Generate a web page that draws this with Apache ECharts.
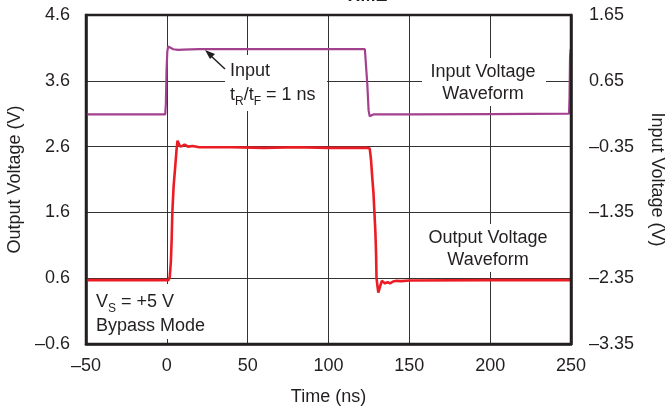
<!DOCTYPE html>
<html>
<head>
<meta charset="utf-8">
<script src="https://cdn.jsdelivr.net/npm/echarts@6/dist/echarts.min.js"></script>
<style>
html,body{margin:0;padding:0;background:#fff;}
#chart{width:668px;height:407px;}
</style>
</head>
<body>
<div id="chart"></div>
<script>
// Tick labels
var xMin = -50, xMax = 250, xStep = 50;
var leftTickLabels = ['\u20130.6', '0.6', '1.6', '2.6', '3.6', '4.6'];
var rightTickLabels = ['\u20133.35', '\u20132.35', '\u20131.35', '\u20130.35', '0.65', '1.65'];
// Data ranges of the two voltage scales
var outputRange = [-0.4, 4.6];
var inputRange = [-3.35, 1.65];

// Output voltage waveform (time ns, volts)
var outputTime = [-50, -20, 1, 1.8, 2.5, 3.0, 3.4, 4.2, 5.2, 6, 6.6, 7.4, 8.2, 9.5, 11, 13, 16, 20, 40, 60, 80, 100, 115, 124, 125.5, 126.3, 127, 127.8, 128.4, 129, 129.4, 129.7, 130.2, 130.8, 131.5, 132.2, 133, 134, 135, 136.5, 138, 140, 142, 145, 150, 200, 250];
var outputVolts = [0.57, 0.57, 0.57, 0.62, 0.85, 1.2, 1.6, 2.0, 2.3, 2.55, 2.69, 2.66, 2.6, 2.61, 2.63, 2.6, 2.61, 2.59, 2.59, 2.58, 2.59, 2.58, 2.58, 2.58, 2.57, 2.4, 2.15, 1.9, 1.6, 1.3, 1.0, 0.6, 0.5, 0.38, 0.36, 0.5, 0.56, 0.53, 0.52, 0.54, 0.52, 0.55, 0.56, 0.555, 0.565, 0.57, 0.57];

// Input voltage waveform (time ns, volts)
var inputTime = [-50, -1, -0.6, -0.2, 0.3, 0.8, 2, 4, 7, 10, 20, 60, 100, 122.5, 123.2, 124, 124.8, 125.5, 126.5, 128, 150, 200, 248.8, 249.1, 249.4, 249.8, 250];
var inputVolts = [0.14, 0.14, 0.3, 0.8, 1.1, 1.17, 1.15, 1.13, 1.12, 1.125, 1.13, 1.13, 1.13, 1.13, 1.1, 0.6, 0.2, 0.11, 0.12, 0.14, 0.14, 0.145, 0.15, 0.4, 1.0, 1.13, 1.13];

function pairs(xs, ys){ var out=[]; for(var i=0;i<xs.length;i++) out.push([xs[i], ys[i]]); return out; }

var FONT = '"Liberation Sans", Arial, Helvetica, sans-serif';
var TXT = '#231f20';
var FS = 18;
var chart = echarts.init(document.getElementById('chart'), null, {renderer:'canvas'});

var subRich = {
  n: {fontSize: FS, fontFamily: FONT, color: TXT, lineHeight: 22, verticalAlign: 'middle'},
  s: {fontSize: 12, fontFamily: FONT, color: TXT, lineHeight: 25, verticalAlign: 'bottom'}
};

var option = {
  animation: false,
  backgroundColor: '#fff',
  textStyle: {fontFamily: FONT, color: TXT},
  grid: {left: 86, right: 97, top: 15, bottom: 63, containLabel: false, outerBoundsMode: 'none',
         show: true, borderColor: TXT, borderWidth: 2.5, backgroundColor: 'transparent', z: 5},
  xAxis: {
    type: 'value', min: xMin, max: xMax, interval: xStep,
    name: 'Time (ns)', nameLocation: 'middle', nameGap: 44,
    nameTextStyle: {fontSize: FS, color: TXT, fontFamily: FONT},
    axisLine: {show: true, onZero: false, lineStyle: {color: TXT, width: 2.5}},
    axisTick: {show: false},
    axisLabel: {fontSize: FS, color: TXT, fontFamily: FONT, margin: 13,
      formatter: function(v){ return v < 0 ? '\u2013' + Math.abs(v) : String(v); }},
    splitLine: {show: true, lineStyle: {color: '#333', width: 1}}
  },
  yAxis: [
    {
      type: 'value', min: 0, max: 5, interval: 1, position: 'left',
      name: 'Output Voltage (V)', nameLocation: 'middle', nameGap: 55,
      nameTextStyle: {fontSize: FS, color: TXT, fontFamily: FONT},
      axisLine: {show: true, onZero: false, lineStyle: {color: TXT, width: 2.5}},
      axisTick: {show: false},
      axisLabel: {fontSize: FS, color: TXT, fontFamily: FONT, margin: 16,
        formatter: function(v){ return leftTickLabels[Math.round(v)]; }},
      splitLine: {show: true, lineStyle: {color: '#333', width: 1}}
    },
    {
      type: 'value', min: 0, max: 5, interval: 1, position: 'right',
      name: 'Input Voltage (V)', nameLocation: 'middle', nameGap: 77, nameRotate: -90,
      nameTextStyle: {fontSize: FS, color: TXT, fontFamily: FONT},
      axisLine: {show: true, onZero: false, lineStyle: {color: TXT, width: 2.5}},
      axisTick: {show: false},
      axisLabel: {fontSize: FS, color: TXT, fontFamily: FONT, margin: 18,
        formatter: function(v){ return rightTickLabels[Math.round(v)]; }},
      splitLine: {show: false}
    },
    {type: 'value', show: false, min: outputRange[0], max: outputRange[1], axisLine: {onZero: false}, splitLine: {show: false}},
    {type: 'value', show: false, min: inputRange[0], max: inputRange[1], axisLine: {onZero: false}, splitLine: {show: false}}
  ],
  series: [
    {
      name: 'Input Voltage', type: 'line', yAxisIndex: 3, showSymbol: false, symbol: 'none',
      data: pairs(inputTime, inputVolts),
      lineStyle: {color: '#a3418f', width: 2.2}, z: 3
    },
    {
      name: 'Output Voltage', type: 'line', yAxisIndex: 2, showSymbol: false, symbol: 'none',
      data: pairs(outputTime, outputVolts),
      lineStyle: {color: '#ec1c24', width: 2.6}, z: 4
    }
  ],
  graphic: [
    {type: 'text', x: 366, y: 5, z: 10,
      style: {text: 'TIME', font: 'bold 18px ' + FONT, fill: TXT, textAlign: 'center', textVerticalAlign: 'bottom'}},
    // white boxes hiding grid lines behind annotations
    {type: 'rect', shape: {x: 225, y: 55, width: 102, height: 56}, style: {fill: '#fff'}, z: 1},
    {type: 'rect', shape: {x: 422, y: 58, width: 124, height: 48}, style: {fill: '#fff'}, z: 1},
    {type: 'rect', shape: {x: 424, y: 224, width: 130, height: 48}, style: {fill: '#fff'}, z: 1},
    {type: 'rect', shape: {x: 92, y: 284, width: 120, height: 55}, style: {fill: '#fff'}, z: 1},
    {type: 'text', x: 230, y: 71, z: 10,
      style: {text: 'Input', font: FS + 'px ' + FONT, fill: TXT, textVerticalAlign: 'middle'}},
    {type: 'text', x: 230, y: 83, z: 10,
      style: {text: '{n|t}{s|R}{n|/t}{s|F}{n| = 1 ns}', fill: TXT, rich: subRich}},
    {type: 'line', shape: {x1: 225, y1: 69, x2: 210, y2: 55}, style: {stroke: TXT, lineWidth: 1.5}, z: 10},
    {type: 'polygon', shape: {points: [[205, 50], [215, 54], [210, 59]]}, style: {fill: TXT}, z: 10},
    {type: 'text', x: 483, y: 83, z: 10,
      style: {text: 'Input Voltage\nWaveform', font: FS + 'px ' + FONT, fill: TXT, textAlign: 'center', textVerticalAlign: 'middle', lineHeight: 22}},
    {type: 'text', x: 488, y: 249, z: 10,
      style: {text: 'Output Voltage\nWaveform', font: FS + 'px ' + FONT, fill: TXT, textAlign: 'center', textVerticalAlign: 'middle', lineHeight: 22}},
    {type: 'text', x: 96, y: 289.5, z: 10,
      style: {text: '{n|V}{s|S}{n| = +5 V}', fill: TXT, rich: subRich}},
    {type: 'text', x: 96, y: 326, z: 10,
      style: {text: 'Bypass Mode', font: FS + 'px ' + FONT, fill: TXT, textVerticalAlign: 'middle'}}
  ]
};
chart.setOption(option);
</script>
</body>
</html>
